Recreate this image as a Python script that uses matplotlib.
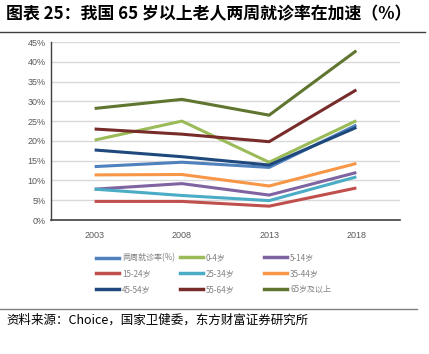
import matplotlib
matplotlib.use("Agg")
import matplotlib.pyplot as plt
from matplotlib.ticker import FuncFormatter, MultipleLocator
from matplotlib.lines import Line2D

plt.rcParams['font.family'] = ['Noto Sans CJK SC', 'DejaVu Sans']

years = ["2003", "2008", "2013", "2018"]
series_names = ["两周就诊率(%)", "0-4岁", "5-14岁", "15-24岁", "25-34岁", "35-44岁",
                "45-54岁", "55-64岁", "65岁及以上"]
v_total = [13.5, 14.6, 13.3, 24.0]
v_0_4 = [20.2, 25.0, 14.6, 25.1]
v_5_14 = [7.8, 9.2, 6.3, 12.0]
v_15_24 = [4.7, 4.7, 3.5, 8.1]
v_25_34 = [7.8, 6.2, 4.9, 10.9]
v_35_44 = [11.4, 11.5, 8.6, 14.3]
v_45_54 = [17.7, 16.0, 13.9, 23.4]
v_55_64 = [23.0, 21.7, 19.8, 32.9]
v_65 = [28.2, 30.5, 26.5, 42.8]
values = [v_total, v_0_4, v_5_14, v_15_24, v_25_34, v_35_44, v_45_54, v_55_64, v_65]
colors = ["#4F81BD", "#9BBB59", "#8064A2", "#C0504D", "#4BACC6", "#F79646",
          "#1F497D", "#772C2A", "#5F7530"]

fig = plt.figure(figsize=(4.29, 3.54), dpi=100)
ax = fig.add_axes([51/429, 1-220/354, (400-51)/429, (220-42)/354])

x = list(range(len(years)))
for i in range(len(values)):
    ax.plot(x, values[i], color=colors[i], lw=2.2, solid_capstyle='butt', zorder=3)

ax.set_xlim(-0.5, 3.5)
ax.set_ylim(0, 45)
ax.yaxis.set_major_locator(MultipleLocator(5))
ax.yaxis.set_major_formatter(FuncFormatter(lambda v, p: f"{int(v)}%"))
ax.set_xticks(x)
ax.set_xticklabels(years)
ax.tick_params(axis='both', length=0, labelsize=6.5, colors='#595959', pad=8)
ax.tick_params(axis='y', pad=4)
for lab in ax.get_yticklabels() + ax.get_xticklabels():
    lab.set_family(['Liberation Sans Narrow', 'Liberation Sans', 'DejaVu Sans'])
ax.grid(axis='y', color='#D9D9D9', lw=1.0, zorder=0)
for s in ['top', 'right']:
    ax.spines[s].set_visible(False)
ax.spines['left'].set_color('#404040')
ax.spines['bottom'].set_color('#404040')
ax.spines['left'].set_linewidth(1.0)
ax.spines['bottom'].set_linewidth(1.2)

col_x = [89, 173, 257]
for c in range(3):
    idx = [c, c + 3, c + 6]
    handles = [Line2D([0], [0], color=colors[i], lw=2.5) for i in idx]
    labels = [series_names[i] for i in idx]
    leg = fig.legend(handles, labels, loc='upper left', ncol=1,
                     bbox_to_anchor=(col_x[c]/429, 1-246/354), frameon=False,
                     fontsize=5.8, handlelength=2.85, handletextpad=0.35,
                     labelspacing=0.85)
    for t in leg.get_texts():
        t.set_color('#808080')

fig.text(6/429, 1-14/354, "图表 25：我国 65 岁以上老人两周就诊率在加速（%）",
         fontsize=12.2, fontweight='bold', va='center', ha='left', color='#000000')
fig.add_artist(Line2D([0, 425/429], [1-32/354, 1-32/354], color='#404040', lw=1.0))
fig.add_artist(Line2D([0, 417/429], [1-309/354, 1-309/354], color='#808080', lw=1.0))
fig.text(6/429, 1-320/354, "资料来源：Choice，国家卫健委，东方财富证券研究所",
         fontsize=9, va='center', ha='left', color='#000000')

fig.savefig("out.png", dpi=100)
